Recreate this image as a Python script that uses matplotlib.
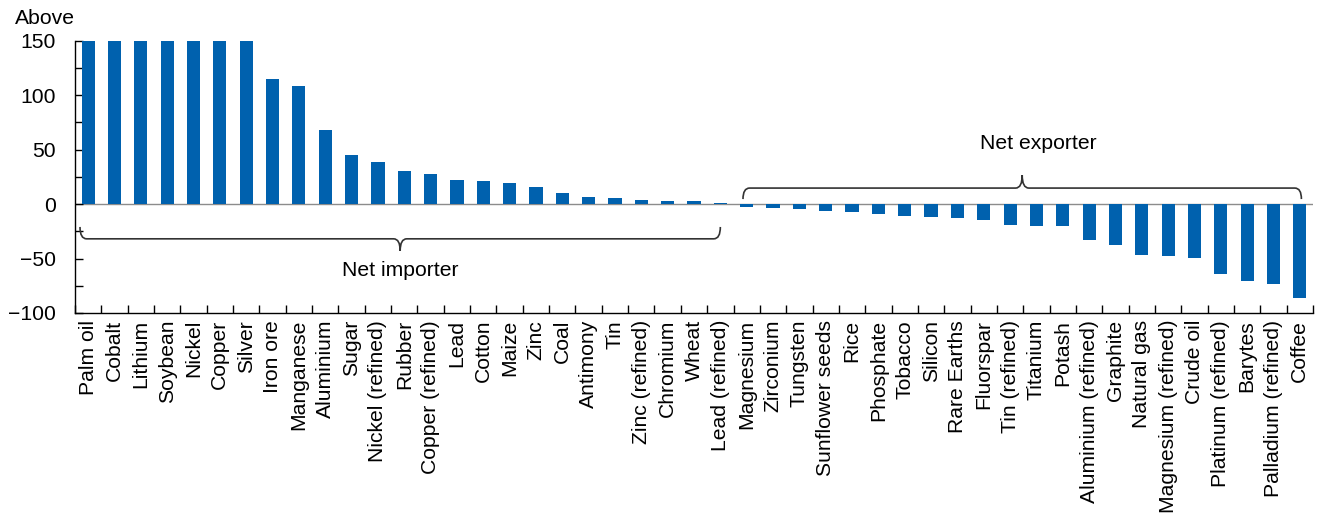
import matplotlib
matplotlib.use("Agg")
import matplotlib.pyplot as plt
from matplotlib.path import Path
from matplotlib.patches import PathPatch
import numpy as np

plt.rcParams['font.family'] = ['Liberation Sans', 'DejaVu Sans']

categories = [
    "Palm oil", "Cobalt", "Lithium", "Soybean", "Nickel", "Copper", "Silver",
    "Iron ore", "Manganese", "Aluminium", "Sugar", "Nickel (refined)", "Rubber",
    "Copper (refined)", "Lead", "Cotton", "Maize", "Zinc", "Coal", "Antimony",
    "Tin", "Zinc (refined)", "Chromium", "Wheat", "Lead (refined)",
    "Magnesium", "Zirconium", "Tungsten", "Sunflower seeds", "Rice", "Phosphate",
    "Tobacco", "Silicon", "Rare Earths", "Fluorspar", "Tin (refined)", "Titanium",
    "Potash", "Aluminium (refined)", "Graphite", "Natural gas",
    "Magnesium (refined)", "Crude oil", "Platinum (refined)", "Barytes",
    "Palladium (refined)", "Coffee",
]
values = [
    150, 150, 150, 150, 150, 150, 150,
    115, 108.5, 68.3, 44.7, 38.6, 30.3,
    27.2, 21.7, 21.0, 19.6, 15.3, 10.1, 6.1,
    5.2, 4.0, 2.8, 2.8, 0.8,
    -3.1, -4.0, -4.9, -6.7, -7.6, -9.5,
    -11.0, -12.2, -12.5, -14.7, -19.0, -19.9,
    -20.2, -33.4, -37.3, -46.8,
    -48.0, -49.8, -64.6, -71.0,
    -73.0, -86.6,
]
y_major = [-100, -50, 0, 50, 100, 150]
y_minor = [-75, -25, 25, 75, 125]
importer_label = "Net importer"
exporter_label = "Net exporter"
top_label = "Above"

BAR_COLOR = "#0061AE"
FS = 15.2

fig = plt.figure(figsize=(13.28, 5.17), dpi=100)
ax = fig.add_axes([75/1328, 1-313/517, (1313-75)/1328, (313-40.7)/517])

x = np.arange(len(categories))
ax.bar(x, values, width=0.5, color=BAR_COLOR, zorder=2)
ax.axhline(0, color="#8c8c8c", lw=1.0, zorder=1)

ax.set_xlim(-0.5, len(categories) - 0.5)
ax.set_ylim(-100, 150)

ax.set_yticks(y_major)
ax.set_yticks(y_minor, minor=True)
ax.tick_params(axis='y', which='both', direction='in', length=6, width=1,
               labelsize=FS, pad=14, color='black')

ax.set_xticks(x)
ax.set_xticklabels(categories, rotation=90, fontsize=FS)
ax.set_xticks(np.arange(len(categories) + 1) - 0.5, minor=True)
ax.tick_params(axis='x', which='major', length=0, pad=5)
ax.tick_params(axis='x', which='minor', direction='in', length=6, width=1, color='black')

for s in ['top', 'right']:
    ax.spines[s].set_visible(False)
for s in ['left', 'bottom']:
    ax.spines[s].set_linewidth(1.0)
    ax.spines[s].set_color('black')


def brace(ax, x0, x1, yline, yend, ytip, dx=0.25):
    xm = (x0 + x1) / 2
    verts = [
        (x0, yend), (x0, yline), (x0 + dx, yline),
        (xm - dx, yline), (xm, yline), (xm, ytip),
        (xm, yline), (xm + dx, yline),
        (x1 - dx, yline), (x1, yline), (x1, yend),
    ]
    codes = [
        Path.MOVETO, Path.CURVE3, Path.CURVE3,
        Path.LINETO, Path.CURVE3, Path.CURVE3,
        Path.CURVE3, Path.CURVE3,
        Path.LINETO, Path.CURVE3, Path.CURVE3,
    ]
    p = PathPatch(Path(verts, codes), fill=False, edgecolor="#333333",
                  lw=1.2, zorder=3, clip_on=False)
    ax.add_patch(p)
    return xm

xm1 = brace(ax, -0.31, 24.0, -31.9, -21.0, -42.9)
ax.text(xm1, -60.6, importer_label, ha='center', va='center', fontsize=FS)
xm2 = brace(ax, 24.86, 46.06, 14.7, 4.6, 26.6)
ax.text(xm2 + 0.6, 56, exporter_label, ha='center', va='center', fontsize=FS)

fig.text(15/1328, 1-18/517, top_label, ha='left', va='center', fontsize=FS)

fig.savefig("out.png", dpi=100)
